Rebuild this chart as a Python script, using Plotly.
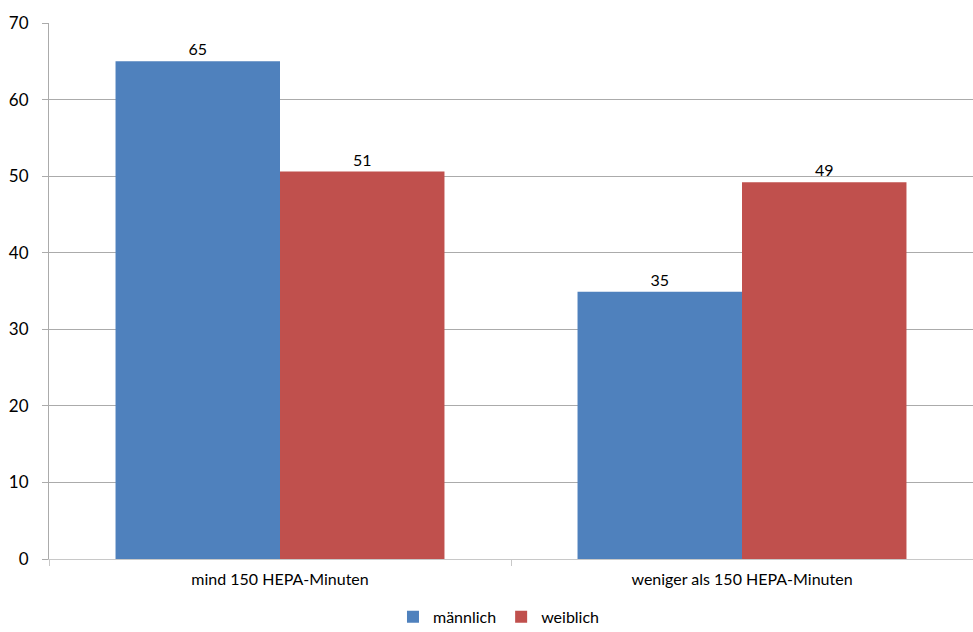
import plotly.graph_objects as go

categories = ["mind 150 HEPA-Minuten", "weniger als 150 HEPA-Minuten"]
maennlich = [65.0, 34.9]
weiblich = [50.6, 49.2]
y_ticks = [0, 10, 20, 30, 40, 50, 60, 70]

FONT = "Lato"
FS = 17
fig = go.Figure()
for name, vals, col in [("männlich", maennlich, "#4F81BD"), ("weiblich", weiblich, "#C0504D")]:
    fig.add_trace(go.Bar(x=categories, y=vals, name=name, marker_color=col,
                         marker_line_width=0,
                         texttemplate="%{y:.0f}",
                         textposition="outside", cliponaxis=False,
                         textfont=dict(size=16, color="#000000", family=FONT)))

fig.update_layout(
    width=973, height=632,
    margin=dict(l=49, r=0, t=23, b=73, autoexpand=False),
    paper_bgcolor="white", plot_bgcolor="white",
    barmode="group", bargap=0.288, bargroupgap=0,
    font=dict(family=FONT, size=FS, color="#000000"),
    showlegend=True,
    legend=dict(orientation="h", x=0.487, xanchor="center", y=-0.076, yanchor="top",
                font=dict(size=16, family=FONT), itemwidth=30, tracegroupgap=0),
)
fig.update_xaxes(automargin=False, showline=True, linecolor="#C8C8C8", linewidth=1,
                 ticks="outside", tickson="boundaries", ticklen=6, tickcolor="#C8C8C8",
                 showgrid=False, tickfont=dict(size=16, family=FONT), ticklabelstandoff=6)
fig.update_yaxes(automargin=False, range=[0, 70], tickvals=y_ticks, showgrid=True, gridcolor="#ABABAB",
                 showline=True, linecolor="#ABABAB", linewidth=1,
                 ticks="outside", ticklen=6, tickcolor="#ABABAB",
                 zeroline=False, tickfont=dict(size=FS, family=FONT), ticklabelstandoff=10)
fig.write_html("out.html", config={"displayModeBar": False},
               post_script="document.body.style.margin='0';")
